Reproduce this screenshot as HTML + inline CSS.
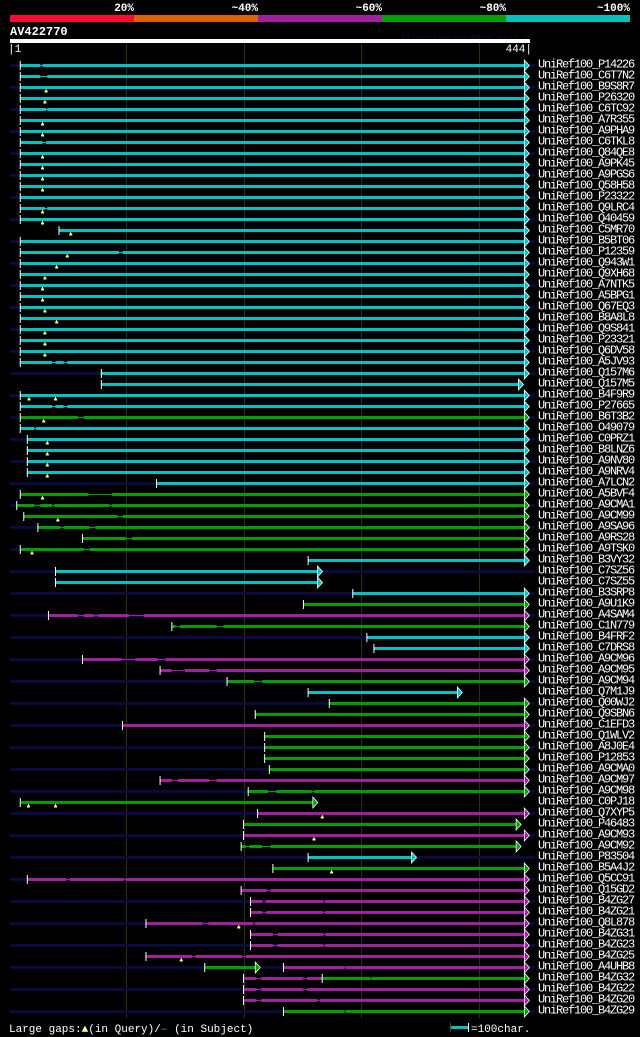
<!DOCTYPE html>
<html><head><meta charset="utf-8">
<style>
html,body{margin:0;padding:0;background:#000;}
svg{display:block;font-family:"Liberation Mono",monospace;}
</style></head>
<body>
<svg id="chart" width="640" height="1037" viewBox="0 0 640 1037" xmlns="http://www.w3.org/2000/svg">
<rect x="0" y="0" width="640" height="1037" fill="#000"/>
<g>
<rect x="10" y="15" width="124" height="7" fill="#ff0a30"/>
<rect x="134" y="15" width="124" height="7" fill="#e06000"/>
<rect x="258" y="15" width="124" height="7" fill="#a020a0"/>
<rect x="382" y="15" width="124" height="7" fill="#00a000"/>
<rect x="506" y="15" width="124" height="7" fill="#00c0c0"/>
<g font-size="11" font-weight="bold" fill="#fff" text-anchor="end">
<text x="134" y="11">20%</text>
<text x="258" y="11">~40%</text>
<text x="382" y="11">~60%</text>
<text x="506" y="11">~80%</text>
<text x="630" y="11">~100%</text>
</g></g>
<text x="10" y="35" font-size="12" font-weight="bold" fill="#fff">AV422770</text>
<text x="530" y="41" font-size="9" fill="#0a0a48" text-anchor="end">AlignView.pm Beta rel1.7</text>
<rect x="10" y="39" width="520" height="4" fill="#fff"/>
<text x="8" y="52" font-size="11" fill="#fff">|1</text>
<text x="532" y="52" font-size="11" fill="#fff" text-anchor="end">444|</text>
<g id="grid"></g>
<g id="rows"></g>
<g>
<text x="9" y="1032" font-size="11" fill="#fff">Large gaps:<tspan fill="#ffff80">▲</tspan>(in Query)/<tspan fill="#00c0c0">–</tspan> (in Subject)</text>
<rect x="451" y="1026" width="18" height="3" fill="#00c0c0"/>
<rect x="450" y="1023" width="1" height="9" fill="#444"/>
<rect x="468" y="1023" width="1" height="9" fill="#fff"/>
<text x="471" y="1032" font-size="11" fill="#fff">=100char.</text>
</g>
</svg>
<script>
const names=["P14226","C6T7N2","B9S8R7","P26320","C6TC92","A7R355","A9PHA9","C6TKL8","Q84QE8","A9PK45","A9PGS6","Q58H58","P23322","Q9LRC4","Q40459","C5MR70","B5BT06","P12359","Q943W1","Q9XH68","A7NTK5","A5BPG1","Q67EQ3","B8A8L8","Q9S841","P23321","Q6DV58","A5JV93","Q157M6","Q157M5","B4F9R9","P27665","B6T3B2","O49079","C0PRZ1","B8LNZ6","A9NV80","A9NRV4","A7LCN2","A5BVF4","A9CMA1","A9CM99","A9SA96","A9RS28","A9TSK0","B3VY32","C7SZ56","C7SZ55","B3SRP8","A9U1K9","A4SAM4","C1N779","B4FRF2","C7DRS8","A9CM96","A9CM95","A9CM94","Q7M1J9","Q00WJ2","Q9SBN6","C1EFD3","Q1WLV2","A8J0E4","P12853","A9CMA0","A9CM97","A9CM98","C0PJ18","Q7XYP5","P46483","A9CM93","A9CM92","P83504","B5A4J2","Q5CC91","Q15GD2","B4ZG27","B4ZG21","Q8L878","B4ZG31","B4ZG23","B4ZG25","A4UHB8","B4ZG32","B4ZG22","B4ZG20","B4ZG29"];
const hspRow=[0,1,2,3,4,5,6,7,8,9,10,11,12,13,14,15,16,17,18,19,20,21,22,23,24,25,26,27,28,29,30,31,32,33,34,35,36,37,38,39,40,41,42,43,44,45,46,47,48,49,50,51,52,53,54,55,56,57,58,59,60,61,62,63,64,65,66,67,68,69,70,71,72,73,74,75,76,77,78,79,80,81,82,82,83,83,84,85,86];
const hspStart=[10,10,10,10,10,10,10,10,10,10,10,10,10,10,10,43,10,10,10,10,10,10,10,10,10,10,10,10,79,79,10,10,10,10,16,16,16,16,126,10,7,13,25,63,10,255,40,40,293,251,34,139,305,311,63,129,186,255,273,210,97,218,218,218,222,129,204,10,212,200,200,198,255,225,16,198,206,206,117,206,206,117,167,234,200,267,200,200,234];
const hspEnd=[439,439,439,439,439,439,439,439,439,439,439,439,439,439,439,439,439,439,439,439,439,439,439,439,439,439,439,439,439,434,439,439,439,439,439,439,439,439,439,439,439,439,439,439,439,439,263,263,439,439,439,439,439,439,439,439,439,382,439,439,439,439,439,439,439,439,439,259,439,432,439,432,343,439,439,439,439,439,439,439,439,439,210,439,267,439,439,439,439];
const hspColor=["c","c","c","c","c","c","c","c","c","c","c","c","c","c","c","c","c","c","c","c","c","c","c","c","c","c","c","c","c","c","c","c","g","c","c","c","c","c","c","g","g","g","g","g","g","c","c","c","c","g","p","g","c","c","p","p","g","c","g","g","p","g","g","g","g","p","g","g","p","g","p","g","c","g","p","p","p","p","p","p","p","p","g","p","p","g","p","p","g"];
const gapRow=[0,1,4,7,13,17,27,27,31,31,32,33,39,40,40,40,41,42,42,43,44,50,50,50,51,51,54,54,55,55,56,65,65,66,66,71,71,74,74,75,76,76,77,77,78,78,79,79,80,80,81,81,82,83,83,83,84,84,85,85,86];
const gapStart=[27,27,32,29,31,94,37,47,37,47,59,22,68,22,37,86,93,44,69,100,64,59,73,102.5,142,177,96,127,139,171,209,139,171,221,258,202,216,49,98,220,216,268,216,268,165,208,225,268,225,268,156,199,286,211,251,308,211,251,211,263,286];
const gapEnd=[29,33,33,32,33,97,40,50,40,50,64,23.5,88,27,39,88,97,47,74,105,69,64,76,115,146,183,108,134,150,177,216,144,177,228,260,205,223,52,100,223,219,269.5,219,269.5,170,210,229,269.5,229,269.5,159,202,287,215,254,309,215,254,215,265,287];
const markRow=[2,3,5,6,8,9,10,11,13,14,15,17,18,19,20,21,22,23,24,25,26,30,30,32,34,35,36,37,39,41,44,67,67,68,70,73,78,81];
const markPos=[32,31,29,29,29,29,29,29,29,29,53,50,41,31,29,29,31,41,31,31,31,17.5,40,30,33,33,33,33,29,42,20,17,40,267,260,275,196,147];
const gridTicks=[100,200,300,400];

const NS="http://www.w3.org/2000/svg";
const COLORS={c:"#00c4c4",g:"#00a000",p:"#a020a0"};
const xs=p=>8.5+p*1.175;
const rowTop=i=>64+11*i;
function mk(tag,attrs,parent){const e=document.createElementNS(NS,tag);for(const k in attrs)e.setAttribute(k,attrs[k]);parent.appendChild(e);return e;}
const grid=document.getElementById('grid');
gridTicks.forEach(t=>{
  const l=mk('rect',{x:Math.round(xs(t)),y:43,width:1,height:975,fill:'#30300c'},grid);
  
  
});
const rowsG=document.getElementById('rows');
names.forEach((n,i)=>{
  const g=mk('g',{},rowsG);
  
  
  g.id='row'+i;
  if(i%2===0){
    const bg=mk('rect',{x:10,y:rowTop(i),width:525,height:3,fill:'#0a0a3c'},g);
    
    
  }
  const t=mk('text',{x:538,y:rowTop(i)+3.5,'font-size':12,'letter-spacing':'-1.2',fill:'#fff'},g);
  t.textContent='UniRef100_'+n;
  
  
});
hspRow.forEach((r,k)=>{
  const g=document.getElementById('row'+r);
  const y=rowTop(r),col=COLORS[hspColor[k]];
  const x0=xs(hspStart[k]),x1=xs(hspEnd[k]);
  const gs=[];gapRow.forEach((gr,j)=>{if(gr===r&&gapStart[j]>=hspStart[k]&&gapEnd[j]<=hspEnd[k])gs.push([gapStart[j],gapEnd[j]]);});
  gs.sort((a,b)=>a[0]-b[0]);
  let cur=hspStart[k];
  const segs=[];gs.forEach(gp=>{segs.push([cur,gp[0]]);cur=gp[1];});segs.push([cur,hspEnd[k]]);
  const thin=mk('rect',{x:x0,y:y+1,width:x1-x0,height:1,fill:col},g);
  
  
  segs.forEach(s=>{
    const b=mk('rect',{x:xs(s[0]),y:y,width:Math.max(0,xs(s[1])-xs(s[0])),height:3,fill:col},g);
    
    
  });
  const follow=hspRow.some((r2,k2)=>r2===r&&k2!==k&&hspStart[k2]===hspEnd[k]);
  if(!follow){
    const a=mk('polygon',{points:`${x1},${y-4} ${x1+5},${y+1.5} ${x1},${y+7}`,fill:col,stroke:'#fff','stroke-width':0.8},g);
    
    
  }
  const tk=mk('rect',{x:x0-0.5,y:y-3,width:1,height:9,fill:'#fff'},g);
  
  
});
markRow.forEach((r,k)=>{
  const g=document.getElementById('row'+r);
  const x=xs(markPos[k]),y=rowTop(r);
  const m=mk('path',{d:`M${x-0.5},${y+3}h1v1.5h1v2h-3v-2h1z`,fill:'#ffff80'},g);
  
  
});
</script>
</body></html>
